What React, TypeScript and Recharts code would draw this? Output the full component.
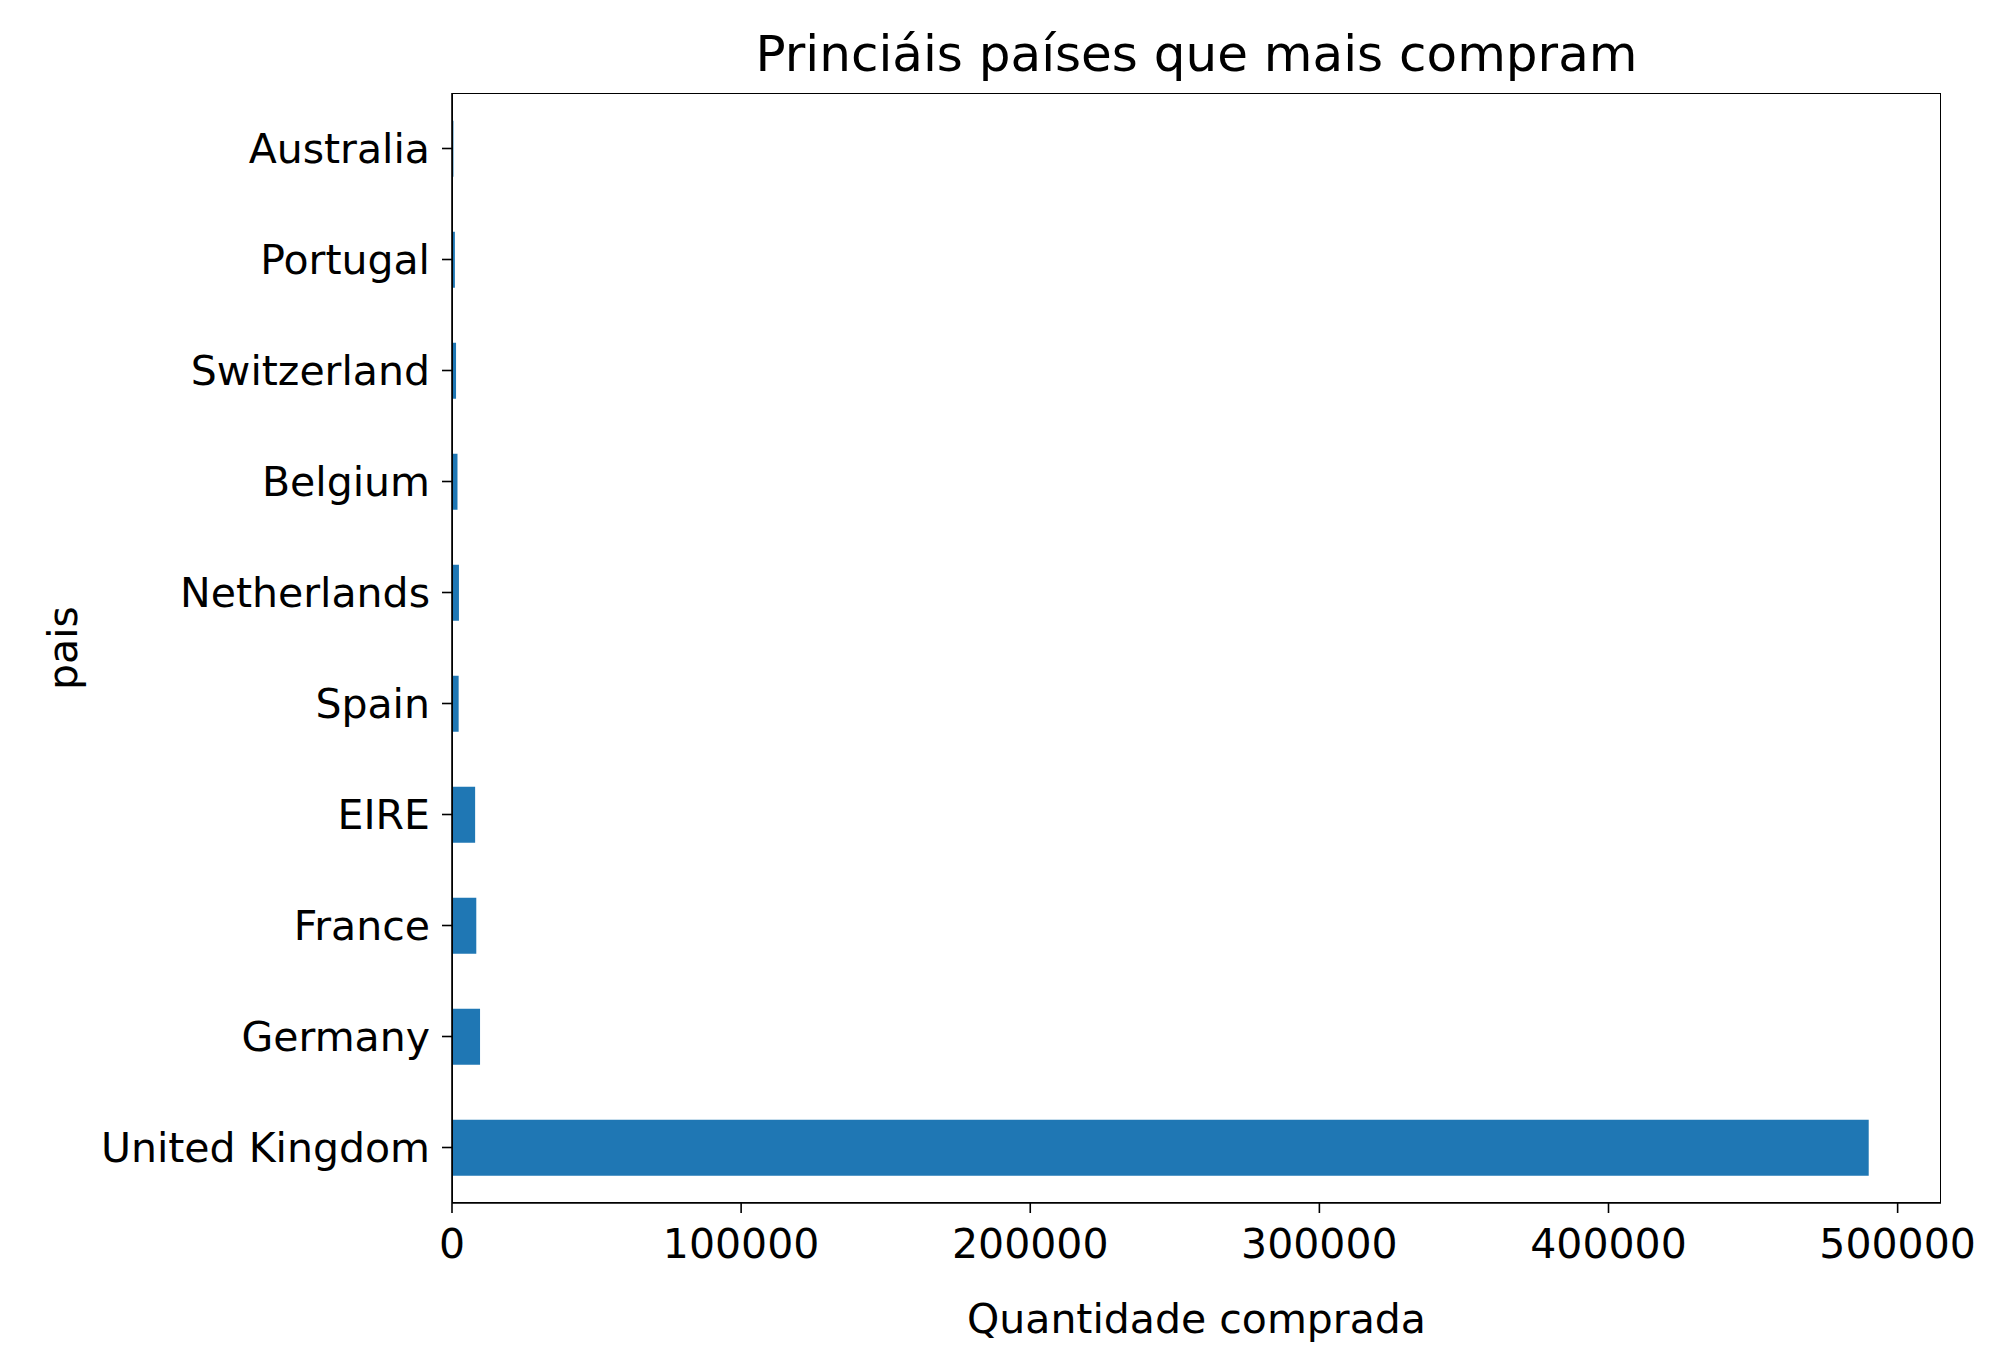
import React from "react";
import { BarChart, Bar, XAxis, YAxis, Label } from "recharts";

const countries = ["Australia","Portugal","Switzerland","Belgium","Netherlands","Spain","EIRE","France","Germany","United Kingdom"];
const quantities = [500, 1000, 1400, 1900, 2400, 2300, 8000, 8400, 9700, 490000];
const xTicks = [0, 100000, 200000, 300000, 400000, 500000];

const data = countries.map((c, i) => ({ pais: c, q: quantities[i] }));
const font = "DejaVu Sans";

export default function App() {
  return (
    <div style={{ position: "absolute", left: 0, top: 0, width: 2006, height: 1363, background: "#fff" }}>
      <div style={{ position: "absolute", top: 24, left: 452, width: 1489, textAlign: "center", fontFamily: font, fontSize: 50, color: "#000", lineHeight: "60px" }}>
        Princiáis países que mais compram
      </div>
      <BarChart width={2006} height={1363} data={data} layout="vertical" barCategoryGap="25%"
        margin={{ top: 93, right: 65, bottom: 0, left: 22 }}>
        <XAxis type="number" dataKey="q" domain={[0, 515000]} ticks={xTicks} allowDataOverflow
          height={160} tickSize={10} tick={{ fill: "#000", fontSize: 41, fontFamily: font, dy: 14 }}
          axisLine={{ stroke: "#000", strokeWidth: 1.6 }} tickLine={{ stroke: "#000", strokeWidth: 1.6 }}>
          <Label value="Quantidade comprada" position="insideBottom" offset={30} style={{ fill: "#000", fontSize: 41, fontFamily: font }} />
        </XAxis>
        <YAxis type="category" dataKey="pais" width={430} tickSize={10}
          tick={{ fill: "#000", fontSize: 41, fontFamily: font, dx: -10 }}
          axisLine={{ stroke: "#000", strokeWidth: 1.6 }} tickLine={{ stroke: "#000", strokeWidth: 1.6 }}>
          <Label value="pais" angle={-90} position="insideLeft" offset={40} style={{ fill: "#000", fontSize: 41, fontFamily: font, textAnchor: "middle" }} />
        </YAxis>
        <Bar dataKey="q" fill="#1f77b4" isAnimationActive={false} />
      </BarChart>
      <div style={{ position: "absolute", left: 452, top: 93, width: 1489, height: 1110, boxSizing: "border-box", border: "1.6px solid #000", pointerEvents: "none" }} />
    </div>
  );
}
